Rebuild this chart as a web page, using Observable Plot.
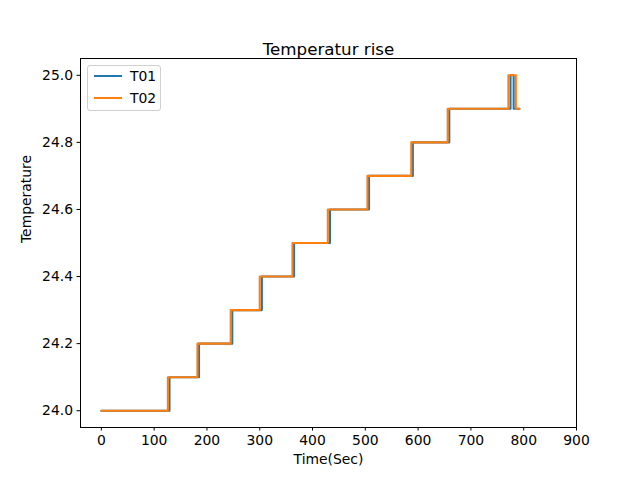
<!DOCTYPE html>
<html>
<head>
<meta charset="utf-8">
<script src="https://cdn.jsdelivr.net/npm/d3@7"></script>
<script src="https://cdn.jsdelivr.net/npm/@observablehq/plot@0.6"></script>
<style>
  body { margin: 0; background: #fff; }
  #wrap { position: relative; width: 640px; height: 480px; font-family: "DejaVu Sans", sans-serif; }
  #legend { position: absolute; left: 87px; top: 65px; width: 74px; height: 46px; border: 1px solid #d0d0d0; border-radius: 3px; background: rgba(255,255,255,0.8); box-sizing: border-box; }
  .li { position: absolute; left: 6px; height: 20px; display: flex; align-items: center; font-size: 13.9px; color: #000; }
  .sw { width: 28px; height: 2px; margin-right: 8px; }
</style>
</head>
<body>
<div id="wrap"></div>
<script>
const seriesNames = ["T01", "T02"];
const colors = ["#1f77b4", "#ff7f0e"];
const t01Time = [0, 129, 185, 248, 304, 365, 433, 507, 590, 659, 775, 781, 792];
const t02Time = [0, 126, 182, 245, 300, 362, 429, 504, 587, 656, 771, 785, 792];
const tempValues = [24.0, 24.1, 24.2, 24.3, 24.4, 24.5, 24.6, 24.7, 24.8, 24.9, 25.0, 24.9, 24.9];
const xTicks = [0, 100, 200, 300, 400, 500, 600, 700, 800, 900];
const yTicks = [24.0, 24.2, 24.4, 24.6, 24.8, 25.0];

const t01 = t01Time.map((t, i) => ({time: t, temp: tempValues[i], series: "T01"}));
const t02 = t02Time.map((t, i) => ({time: t, temp: tempValues[i], series: "T02"}));

const font = "DejaVu Sans, sans-serif";
const chart = Plot.plot({
  width: 640,
  height: 480,
  marginLeft: 80,
  marginRight: 64,
  marginTop: 58,
  marginBottom: 53,
  style: {fontFamily: font, fontSize: "13.9px", color: "#000", background: "#fff"},
  x: {domain: [-39.5, 900], ticks: xTicks, label: null, tickSize: 3.5, tickPadding: 4},
  y: {domain: [23.95, 25.05], ticks: yTicks, tickFormat: d3.format(".1f"), label: null, tickSize: 3.5, tickPadding: 4},
  marks: [
    Plot.line(t01, {x: "time", y: "temp", curve: "step-after", stroke: colors[0], strokeWidth: 2.1}),
    Plot.line(t02, {x: "time", y: "temp", curve: "step-after", stroke: colors[1], strokeWidth: 2.1}),
    Plot.frame({stroke: "#000", strokeWidth: 1}),
    Plot.axisX({ticks: xTicks, tickSize: 3.5, tickPadding: 4, label: null, fontSize: 13.9}),
    Plot.axisY({ticks: yTicks, tickSize: 3.5, tickPadding: 4, tickFormat: d3.format(".1f"), label: null, fontSize: 13.9}),
    Plot.text(["Temperatur rise"], {frameAnchor: "top", dy: -15, fontSize: 16.7, fill: "#000"}),
    Plot.text(["Time(Sec)"], {frameAnchor: "bottom", dy: 36, fontSize: 13.9, fill: "#000"}),
    Plot.text(["Temperature"], {frameAnchor: "left", dx: -54, rotate: -90, fontSize: 13.9, fill: "#000"})
  ]
});
const wrap = document.getElementById("wrap");
wrap.appendChild(chart);
const legend = document.createElement("div");
legend.id = "legend";
seriesNames.forEach((n, i) => {
  const it = document.createElement("div");
  it.className = "li";
  it.style.top = (0 + i * 22) + "px";
  it.innerHTML = `<span class="sw" style="background:${colors[i]}"></span>${n}`;
  legend.appendChild(it);
});
wrap.appendChild(legend);
</script>
</body>
</html>
